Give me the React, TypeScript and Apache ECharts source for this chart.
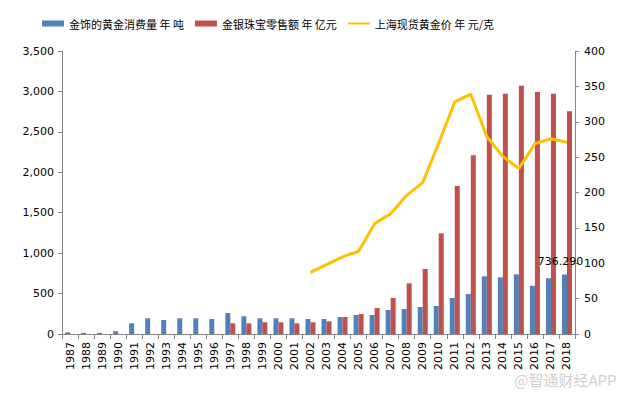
import React, { useEffect, useRef } from "react";
import * as echarts from "echarts";

const years = [
  "1987", "1988", "1989", "1990", "1991", "1992", "1993", "1994", "1995", "1996",
  "1997", "1998", "1999", "2000", "2001", "2002", "2003", "2004", "2005", "2006",
  "2007", "2008", "2009", "2010", "2011", "2012", "2013", "2014", "2015", "2016",
  "2017", "2018",
];

const jewelryTonnes = [
  20, 15, 15, 35, 132, 194, 173, 194, 194, 185,
  260, 219, 194, 194, 194, 185, 185, 210, 235, 235,
  297, 309, 334, 346, 445, 494, 713, 701, 738, 597,
  689, 736.29,
];

const retailSales = [
  null, null, null, null, null, null, null, null, null, null,
  132, 132, 145, 145, 132, 145, 157, 210, 247, 321,
  445, 627, 804, 1245, 1830, 2210, 2960, 2972, 3071, 2993,
  2972, 2754,
];

const goldPrice = [
  null, null, null, null, null, null, null, null, null, null,
  null, null, null, null, null, 87, 98, 109, 117, 156,
  170, 196, 214, 270, 328, 339, 279, 251, 234, 269,
  276, 271,
];

const seriesNames = ["金饰的黄金消费量 年 吨", "金银珠宝零售额 年 亿元", "上海现货黄金价 年 元/克"];
const labelText = "736.290";
const watermark = "@智通财经APP";

export default function App() {
  const ref = useRef<HTMLDivElement>(null);
  useEffect(() => {
    if (!ref.current) return;
    const chart = echarts.init(ref.current, null, { renderer: "svg" });
    const axisColor = "#868686";
    const numFont = "DejaVu Sans, Verdana, sans-serif";
    const cjkFont = "Noto Sans CJK SC, sans-serif";
    const lastIdx = jewelryTonnes.length - 1;
    chart.setOption({
      animation: false,
      backgroundColor: "#ffffff",
      legend: {
        top: 13,
        left: 37,
        itemWidth: 22,
        itemHeight: 6,
        itemGap: 11,
        textStyle: { fontFamily: cjkFont, fontSize: 11, color: "#000" },
        data: [
          { name: seriesNames[0], icon: "rect" },
          { name: seriesNames[1], icon: "rect" },
          { name: seriesNames[2], icon: "path://M0 0 H22 V2 H0 Z" },
        ],
      },
      grid: { left: 62, right: 50, top: 51, bottom: 65 },
      xAxis: {
        type: "category",
        data: years,
        axisLine: { lineStyle: { color: axisColor } },
        axisTick: { show: true, alignWithLabel: false, length: 5, lineStyle: { color: axisColor } },
        axisLabel: {
          rotate: 90,
          interval: 0,
          fontFamily: numFont,
          fontSize: 11,
          color: "#000",
          margin: 8,
        },
      },
      yAxis: [
        {
          type: "value",
          min: 0,
          max: 3500,
          interval: 500,
          axisLine: { show: true, lineStyle: { color: axisColor } },
          axisTick: { show: true, length: 4, lineStyle: { color: axisColor } },
          splitLine: { show: false },
          axisLabel: {
            fontFamily: numFont,
            fontSize: 11,
            color: "#000",
            margin: 8,
            formatter: (v: number) => v.toLocaleString("en-US"),
          },
        },
        {
          type: "value",
          min: 0,
          max: 400,
          interval: 50,
          position: "right",
          axisLine: { show: true, lineStyle: { color: axisColor } },
          axisTick: { show: true, length: 4, lineStyle: { color: axisColor } },
          splitLine: { show: false },
          axisLabel: { fontFamily: numFont, fontSize: 11, color: "#000", margin: 9 },
        },
      ],
      series: [
        {
          name: seriesNames[0],
          type: "bar",
          yAxisIndex: 0,
          barWidth: 5,
          barGap: "0%",
          itemStyle: { color: "#4F81BD" },
          data: jewelryTonnes.map((v, i) =>
            i === lastIdx
              ? {
                  value: v,
                  label: {
                    show: true,
                    position: "top",
                    distance: 7,
                    offset: [-4, 0],
                    formatter: () => labelText,
                    fontFamily: numFont,
                    fontSize: 11,
                    color: "#000",
                  },
                }
              : v
          ),
        },
        {
          name: seriesNames[1],
          type: "bar",
          yAxisIndex: 0,
          barWidth: 5,
          barGap: "0%",
          itemStyle: { color: "#C0504D" },
          data: retailSales,
        },
        {
          name: seriesNames[2],
          type: "line",
          yAxisIndex: 1,
          symbol: "none",
          connectNulls: false,
          lineStyle: { color: "#FFC000", width: 3 },
          itemStyle: { color: "#FFC000" },
          data: goldPrice,
          z: 5,
        },
      ],
      graphic: [
        {
          type: "text",
          right: 8,
          top: 371,
          style: {
            text: watermark,
            fontFamily: cjkFont,
            fontSize: 15,
            fill: "rgba(190,190,190,0.75)",
            stroke: "rgba(255,255,255,0.9)",
            lineWidth: 1,
          },
        },
      ],
    });
    return () => chart.dispose();
  }, []);
  return (
    <div
      ref={ref}
      style={{ position: "absolute", left: 0, top: 0, width: 625, height: 399 }}
    />
  );
}
